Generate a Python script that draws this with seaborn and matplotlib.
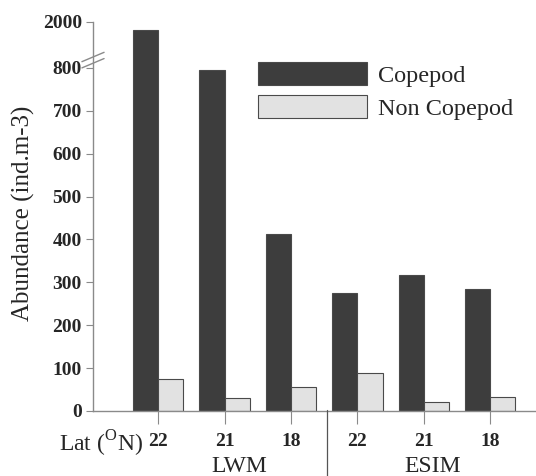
import matplotlib
matplotlib.use("Agg")
import matplotlib.pyplot as plt
import seaborn as sns
import pandas as pd
import numpy as np
from matplotlib.patches import Patch

# data
sites = ['LWM-22', 'LWM-21', 'LWM-18', 'ESIM-22', 'ESIM-21', 'ESIM-18']
lat_labels = ['22', '21', '18', '22', '21', '18']
copepod = [1780, 795, 412, 276, 318, 284]
non_copepod = [75, 30, 56, 88, 22, 32]
yticks = [0, 100, 200, 300, 400, 500, 600, 700, 800, 2000]

df = pd.DataFrame({
    'site': sites * 2,
    'group': ['Copepod'] * 6 + ['Non Copepod'] * 6,
    'abundance': copepod + non_copepod,
})

sns.set_style('white')
plt.rcParams['font.family'] = ['Liberation Serif', 'DejaVu Serif']
plt.rcParams['mathtext.fontset'] = 'custom'
plt.rcParams['mathtext.rm'] = 'Liberation Serif'

colors = {'Copepod': '#3d3d3d', 'Non Copepod': '#e2e2e2'}
axcol = '#8a8a8a'

fig = plt.figure(figsize=(5.36, 4.76), dpi=100)
ax = fig.add_axes([0.1735, 0.1366, 0.8265, 0.8172])

sns.barplot(data=df, x='site', y='abundance', hue='group', order=sites,
            palette=colors, width=0.76, errorbar=None, edgecolor='#4a4a4a',
            linewidth=0.8, ax=ax)

# broken axis: compress everything above 800
k = 0.0894
def fwd(y):
    y = np.asarray(y, dtype=float)
    return np.where(y <= 800, y, 800 + (y - 800) * k)
def inv(y):
    y = np.asarray(y, dtype=float)
    return np.where(y <= 800, y, 800 + (y - 800) / k)
ax.set_yscale('function', functions=(fwd, inv))
ax.set_ylim(0, 2000)
ax.set_yticks(yticks)
ax.set_yticklabels([str(t) for t in yticks], fontweight='bold', fontsize=14)
ax.set_xlim(-0.98, 5.69)
ax.set_xticks(range(len(sites)))
ax.set_xticklabels(lat_labels, fontweight='bold', fontsize=14)
ax.set_xlabel('')
ax.set_ylabel('Abundance (ind.m-3)', fontsize=18)
ax.yaxis.set_label_coords(-0.131, 0.509)

for s in ['top', 'right']:
    ax.spines[s].set_visible(False)
for s in ['left', 'bottom']:
    ax.spines[s].set_color(axcol)
    ax.spines[s].set_linewidth(1.0)
ax.tick_params(axis='y', direction='out', length=5, color=axcol, pad=3, left=True)
ax.tick_params(axis='x', direction='out', length=9, color=axcol, pad=7, bottom=True)

# break marks on y axis
yb = 0.902
for dy in (-0.008, 0.008):
    ax.plot([-0.025, 0.025], [yb + dy - 0.012, yb + dy + 0.012], transform=ax.transAxes,
            color=axcol, lw=1.0, clip_on=False)

# legend
ax.get_legend().remove()
handles = [Patch(facecolor=colors[g], edgecolor='#4a4a4a', linewidth=0.8) for g in colors]
fig.legend(handles, list(colors), loc='upper left', bbox_to_anchor=(258 / 536, 1 - 62 / 476),
           frameon=False, handlelength=4.5, handleheight=1.1, labelspacing=0.32,
           handletextpad=0.42, borderpad=0, borderaxespad=0, prop={'size': 17.5})

# group annotations
fig.text(143 / 536, 1 - 444 / 476, r'Lat ($^{\mathrm{O}}$N)', ha='right', va='center', fontsize=17)
fig.text(239 / 536, 1 - 467 / 476, 'LWM', ha='center', va='center', fontsize=17)
fig.text(433 / 536, 1 - 467 / 476, 'ESIM', ha='center', va='center', fontsize=17)
fig.add_artist(plt.Line2D([327 / 536, 327 / 536], [1 - 410 / 476, 0], color='#555555', lw=0.9))

fig.savefig('out.png', dpi=100)
